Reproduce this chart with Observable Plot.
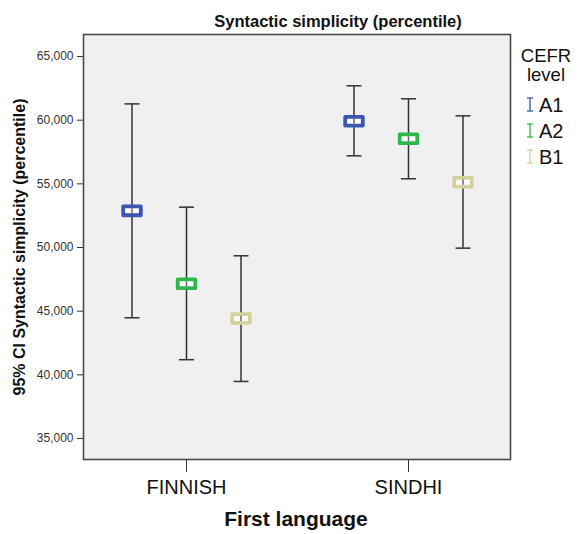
<!DOCTYPE html>
<html>
<head>
<meta charset="utf-8">
<script src="https://cdn.jsdelivr.net/npm/d3@7"></script>
<script src="https://cdn.jsdelivr.net/npm/@observablehq/plot@0.6"></script>
<style>
  html, body { margin: 0; padding: 0; background: #fff; }
  #chart svg { display: block; font-family: Arial, "Liberation Sans", sans-serif; }
</style>
</head>
<body>
<div id="chart"></div>
<script>
// ---- data ----
const languages = ["FINNISH", "SINDHI"];
const levels = ["A1", "A2", "B1"];
const levelColors = ["#3a56b0", "#2db84b", "#d6d19c"];
const finnishMean = [52880, 47150, 44430];
const finnishLow  = [44480, 41190, 39480];
const finnishHigh = [61280, 53170, 49350];
const sindhiMean  = [59920, 58540, 55130];
const sindhiLow   = [57200, 55400, 49950];
const sindhiHigh  = [62700, 61680, 60340];
const yTicks = [35000, 40000, 45000, 50000, 55000, 60000, 65000];
const titleText = "Syntactic simplicity (percentile)";
const yLabel = "95% CI Syntactic simplicity (percentile)";
const xLabel = "First language";
const legendTitle = ["CEFR", "level"];

const series = {FINNISH: [finnishMean, finnishLow, finnishHigh], SINDHI: [sindhiMean, sindhiLow, sindhiHigh]};
const rows = [];
languages.forEach(lang => {
  const [m, lo, hi] = series[lang];
  levels.forEach((lev, j) => rows.push({language: lang, level: lev, idx: j, mean: m[j], low: lo[j], high: hi[j]}));
});

// ---- symbols ----
const capSymbol = {draw(ctx, size) { const r = Math.sqrt(size / Math.PI); ctx.moveTo(-r, 0); ctx.lineTo(r, 0); }};
const vSymbol = {draw(ctx, size) { const r = Math.sqrt(size / Math.PI); ctx.moveTo(0, -r); ctx.lineTo(0, r); }};
const boxSymbol = {draw(ctx, size) {
  const w = Math.sqrt(size / Math.PI), h = w / 2;
  ctx.moveTo(-w, -h); ctx.lineTo(w, -h); ctx.lineTo(w, h); ctx.lineTo(-w, h); ctx.closePath();
}};

const groupSpacing = 54.5;
const levelMarks = levels.flatMap((lev, j) => {
  const data = rows.filter(d => d.level === lev);
  const dx = (j - 1) * groupSpacing;
  return [
    Plot.ruleX(data, {x: "language", y1: "low", y2: "high", dx, stroke: "#333", strokeWidth: 1.5}),
    Plot.dot(data, {x: "language", y: "high", dx, symbol: capSymbol, r: 7.5, stroke: "#333", strokeWidth: 1.5}),
    Plot.dot(data, {x: "language", y: "low", dx, symbol: capSymbol, r: 7.5, stroke: "#333", strokeWidth: 1.5}),
    Plot.dot(data, {x: "language", y: "mean", dx, symbol: boxSymbol, r: 8.8, fill: "white", stroke: levelColors[j], strokeWidth: 3.8, strokeLinejoin: "round"}),
    Plot.dot(data, {x: "language", y: "mean", dx, symbol: vSymbol, r: 2.6, stroke: "#666", strokeWidth: 1.5})
  ];
});

const chart = Plot.plot({
  width: 580,
  height: 534,
  marginLeft: 83,
  marginRight: 70,
  marginTop: 34,
  marginBottom: 75,
  style: {fontFamily: "Arial, 'Liberation Sans', sans-serif", background: "white"},
  x: {type: "point", domain: languages, padding: 0.46},
  y: {domain: [33350, 66730]},
  marks: [
    Plot.frame({fill: "#f0f0f0", stroke: null}),
    Plot.axisY(yTicks, {tickFormat: d3.format(","), tickSize: 6, tickPadding: 4, fontSize: 12, color: "#333", stroke: "#333", label: null}),
    Plot.axisX({tickSize: 13, tickPadding: 7, fontSize: 20, color: "#111", stroke: "#333", label: null}),
    ...levelMarks,
    Plot.frame({stroke: "#4a4a4a", strokeWidth: 1.6})
  ]
});

const svg = d3.select(chart);
const font = "Arial, 'Liberation Sans', sans-serif";
svg.append("text").attr("x", 338).attr("y", 27).attr("text-anchor", "middle")
  .attr("font-size", 16.5).attr("font-weight", "bold").attr("fill", "#111").attr("font-family", font).text(titleText);
svg.append("text").attr("transform", "translate(25,247) rotate(-90)").attr("text-anchor", "middle")
  .attr("font-size", 16).attr("font-weight", "bold").attr("fill", "#111").attr("font-family", font).text(yLabel);
svg.append("text").attr("x", 296).attr("y", 526).attr("text-anchor", "middle")
  .attr("font-size", 21).attr("font-weight", "bold").attr("fill", "#111").attr("font-family", font).text(xLabel);

// legend
legendTitle.forEach((t, i) => {
  svg.append("text").attr("x", 546).attr("y", 62 + i * 19).attr("text-anchor", "middle")
    .attr("font-size", 18.5).attr("fill", "#111").attr("font-family", font).text(t);
});
levels.forEach((lev, j) => {
  const base = 112 + j * 26;
  const g = svg.append("g").attr("stroke", levelColors[j]).attr("stroke-width", 1.3).attr("fill", "none");
  g.append("line").attr("x1", 530).attr("x2", 530).attr("y1", base - 14).attr("y2", base - 1);
  g.append("line").attr("x1", 527).attr("x2", 533).attr("y1", base - 14).attr("y2", base - 14);
  g.append("line").attr("x1", 527).attr("x2", 533).attr("y1", base - 1).attr("y2", base - 1);
  svg.append("text").attr("x", 539).attr("y", base).attr("text-anchor", "start").attr("font-size", 20).attr("fill", "#111")
    .attr("font-family", font).text(lev);
});

document.getElementById("chart").appendChild(chart);
</script>
</body>
</html>
